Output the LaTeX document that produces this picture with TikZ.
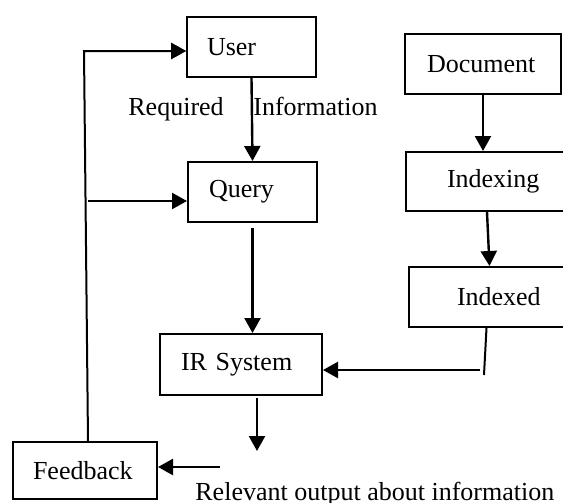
\documentclass[tikz,border=0pt]{standalone}
\usepackage{fontspec}
\setmainfont{Liberation Serif}
\usepackage{tikz}
\usetikzlibrary{arrows.meta}

\tikzset{
	blk/.style = {draw, line width = 1pt, align = left, inner ysep = 0pt, minimum height = 30pt},
	arr/.style = {-{Triangle[length = 7.5pt, width = 8pt]}, line width = 1.2pt},
	plain/.style = {line width = 1pt}
}

\begin{document}
\begin{tikzpicture}[x = 0.5pt, y = -0.5pt, font = \fontsize{13}{15}\selectfont]
					\def\xMAX{563};
					\def\yMAX{503};
					\useasboundingbox (0,0) rectangle (\xMAX,\yMAX);

					\begin{scope}
						\node[blk, text width = 44.5pt, inner xsep = 10pt] (user) at (251.5,47) {User};
						\node[blk, text width = 43.5pt, inner xsep = 10.5pt] (query) at (252.5,192) {Query};
						\node[blk, text width = 60pt, inner xsep = 10.5pt, minimum height = 30.5pt] (irsys) at (241,364.5) {IR System};
						\node[blk, text width = 56pt, inner xsep = 11pt] (doc) at (483,64) {Document};
						\node[blk, text width = 42pt, inner xsep = 20.5pt, minimum height = 29.5pt] (indexing) at (489,181.5) {Indexing};
						\node[blk, text width = 33.5pt, inner xsep = 24pt] (indexed) at (490.5,297) {Indexed};
						\node[blk, text width = 52pt, inner xsep = 10pt, minimum height = 28.5pt] (feedback) at (85,470.5) {Feedback};
					\end{scope}

					\begin{scope}[inner sep = 0pt]
						\node[anchor = base west] (req) at (128,115) {Required};
						\node[anchor = base west] (info) at (253,115) {Information};
						\node[anchor = base west] (relout) at (195,500) {Relevant output about information};
					\end{scope}

					\coordinate (ucorner) at (84,51);
					\coordinate (qin) at (88,201);
					\coordinate (ixdown) at (484,375);
					\coordinate (irin) at (480,370);
					\coordinate (outtip) at (257,451);
					\coordinate (fbin) at (220,467);

					\begin{scope}[arr]
						\draw (user.south) -- (query.north);
						\draw ([yshift = -2.5pt]query.south) -- (query.south |- irsys.north);
						\draw (doc.south) -- (doc.south |- indexing.north);
						\draw ([xshift = -1pt]indexing.south) -- ([xshift = -0.5pt]indexed.north);
						\draw (irin) -- (irin -| irsys.east);
						\draw ([yshift = -1pt]irsys.south -| outtip) -- (outtip);
						\draw (fbin) -- (fbin -| feedback.east);
						\draw (qin) -- (qin -| query.west);
						\draw[plain] ([xshift = 1.5pt]feedback.north) -- (ucorner) -- (ucorner -| user.west);
						\draw[arr] (ucorner) -- (ucorner -| user.west);
					\end{scope}

					\draw[plain] ([xshift = -2pt]indexed.south) -- (ixdown);
				\end{tikzpicture}
\end{document}
